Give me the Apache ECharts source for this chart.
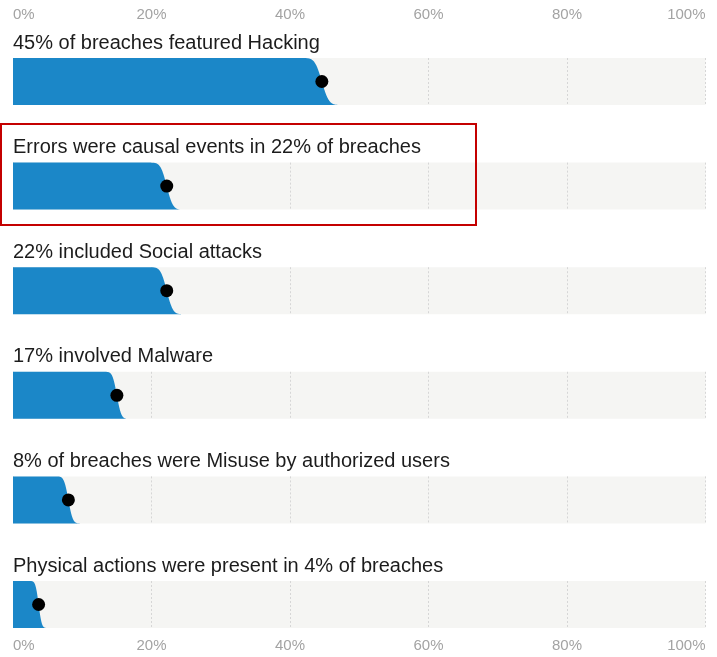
<!DOCTYPE html>
<html>
<head>
<meta charset="utf-8">
<script src="https://cdn.jsdelivr.net/npm/echarts@6/dist/echarts.min.js"></script>
<style>
html,body{margin:0;padding:0;background:#fff;}
#chart{width:717px;height:657px;}
</style>
</head>
<body>
<div id="chart"></div>
<script>
// ---- data ----
const categories = [
  '45% of breaches featured Hacking',
  'Errors were causal events in 22% of breaches',
  '22% included Social attacks',
  '17% involved Malware',
  '8% of breaches were Misuse by authorized users',
  'Physical actions were present in 4% of breaches'
];
const pointValues = [44.6, 22.2, 22.2, 15.0, 8.0, 3.7];
const spreadValues = [0.8, 0.7, 0.7, 0.5, 0.5, 0.36];
const tickValues = [0, 20, 40, 60, 80, 100];
const tickLabels = ['0%', '20%', '40%', '60%', '80%', '100%'];

// ---- helpers ----
function erf(x) {
  const s = x < 0 ? -1 : 1; x = Math.abs(x);
  const t = 1 / (1 + 0.3275911 * x);
  const y = 1 - (((((1.061405429 * t - 1.453152027) * t) + 1.421413741) * t - 0.284496736) * t + 0.254829592) * t * Math.exp(-x * x);
  return s * y;
}
function Phi(z) { return 0.5 * (1 + erf(z / Math.SQRT2)); }

const FONT = '"Liberation Sans", Arial, sans-serif';
const ROW0 = 58, ROWSTEP = 104.6, ROWH = 47;
const n = categories.length;

const grids = [], xAxes = [], yAxes = [], series = [];
for (let i = 0; i < n; i++) {
  grids.push({
    left: 13, right: 11.5, top: ROW0 + i * ROWSTEP, height: ROWH,
    show: true, backgroundColor: '#f5f5f3', borderWidth: 0
  });
  const showLabels = (i === 0 || i === n - 1);
  xAxes.push({
    type: 'value', gridIndex: i, min: 0, max: 100, interval: 20,
    position: i === 0 ? 'top' : 'bottom',
    axisLine: { show: false }, axisTick: { show: false },
    axisLabel: {
      show: showLabels,
      margin: i === 0 ? 36 : 10,
      color: '#a3a3a3', fontSize: 15, fontFamily: FONT,
      alignMinLabel: 'left', alignMaxLabel: 'right',
      formatter: function (v) { const k = tickValues.indexOf(v); return k >= 0 ? tickLabels[k] : ''; }
    },
    splitLine: { show: true, lineStyle: { color: '#d6d6d6', width: 1, type: [2, 2] } }
  });
  yAxes.push({ type: 'value', gridIndex: i, min: 0, max: 1, show: false });
  series.push({
    type: 'custom', xAxisIndex: i, yAxisIndex: i, silent: true, clip: false,
    data: [[pointValues[i], spreadValues[i], i]],
    renderItem: function (params, api) {
      const m = api.value(0), s = api.value(1), idx = api.value(2);
      const pts = [api.coord([0, 0])];
      const xEnd = Math.min(100, m + 5 * s);
      const step = s / 25;
      for (let x = 0; x <= xEnd + 1e-9; x += step) {
        pts.push(api.coord([x, 1 - Phi((x - m) / s)]));
      }
      pts.push(api.coord([xEnd, 0]));
      const c = api.coord([m, 0.5]);
      const tl = api.coord([0, 1]);
      return {
        type: 'group',
        children: [
          { type: 'polygon', shape: { points: pts }, style: { fill: '#1b87c8' } },
          { type: 'circle', shape: { cx: c[0], cy: c[1], r: 6.5 }, style: { fill: '#000' } },
          { type: 'text', style: {
              text: categories[idx], x: tl[0], y: tl[1] - 15,
              font: '20px ' + FONT, fill: '#1c1c1c', align: 'left', verticalAlign: 'middle'
          } }
        ]
      };
    }
  });
}

const chart = echarts.init(document.getElementById('chart'), null, { renderer: 'canvas' });
chart.setOption({
  animation: false,
  grid: grids, xAxis: xAxes, yAxis: yAxes, series: series,
  graphic: [{
    type: 'rect', x: 1, y: 124, silent: true,
    shape: { x: 0, y: 0, width: 475, height: 101 },
    style: { fill: 'none', stroke: '#c40000', lineWidth: 2 }
  }]
});
</script>
</body>
</html>
